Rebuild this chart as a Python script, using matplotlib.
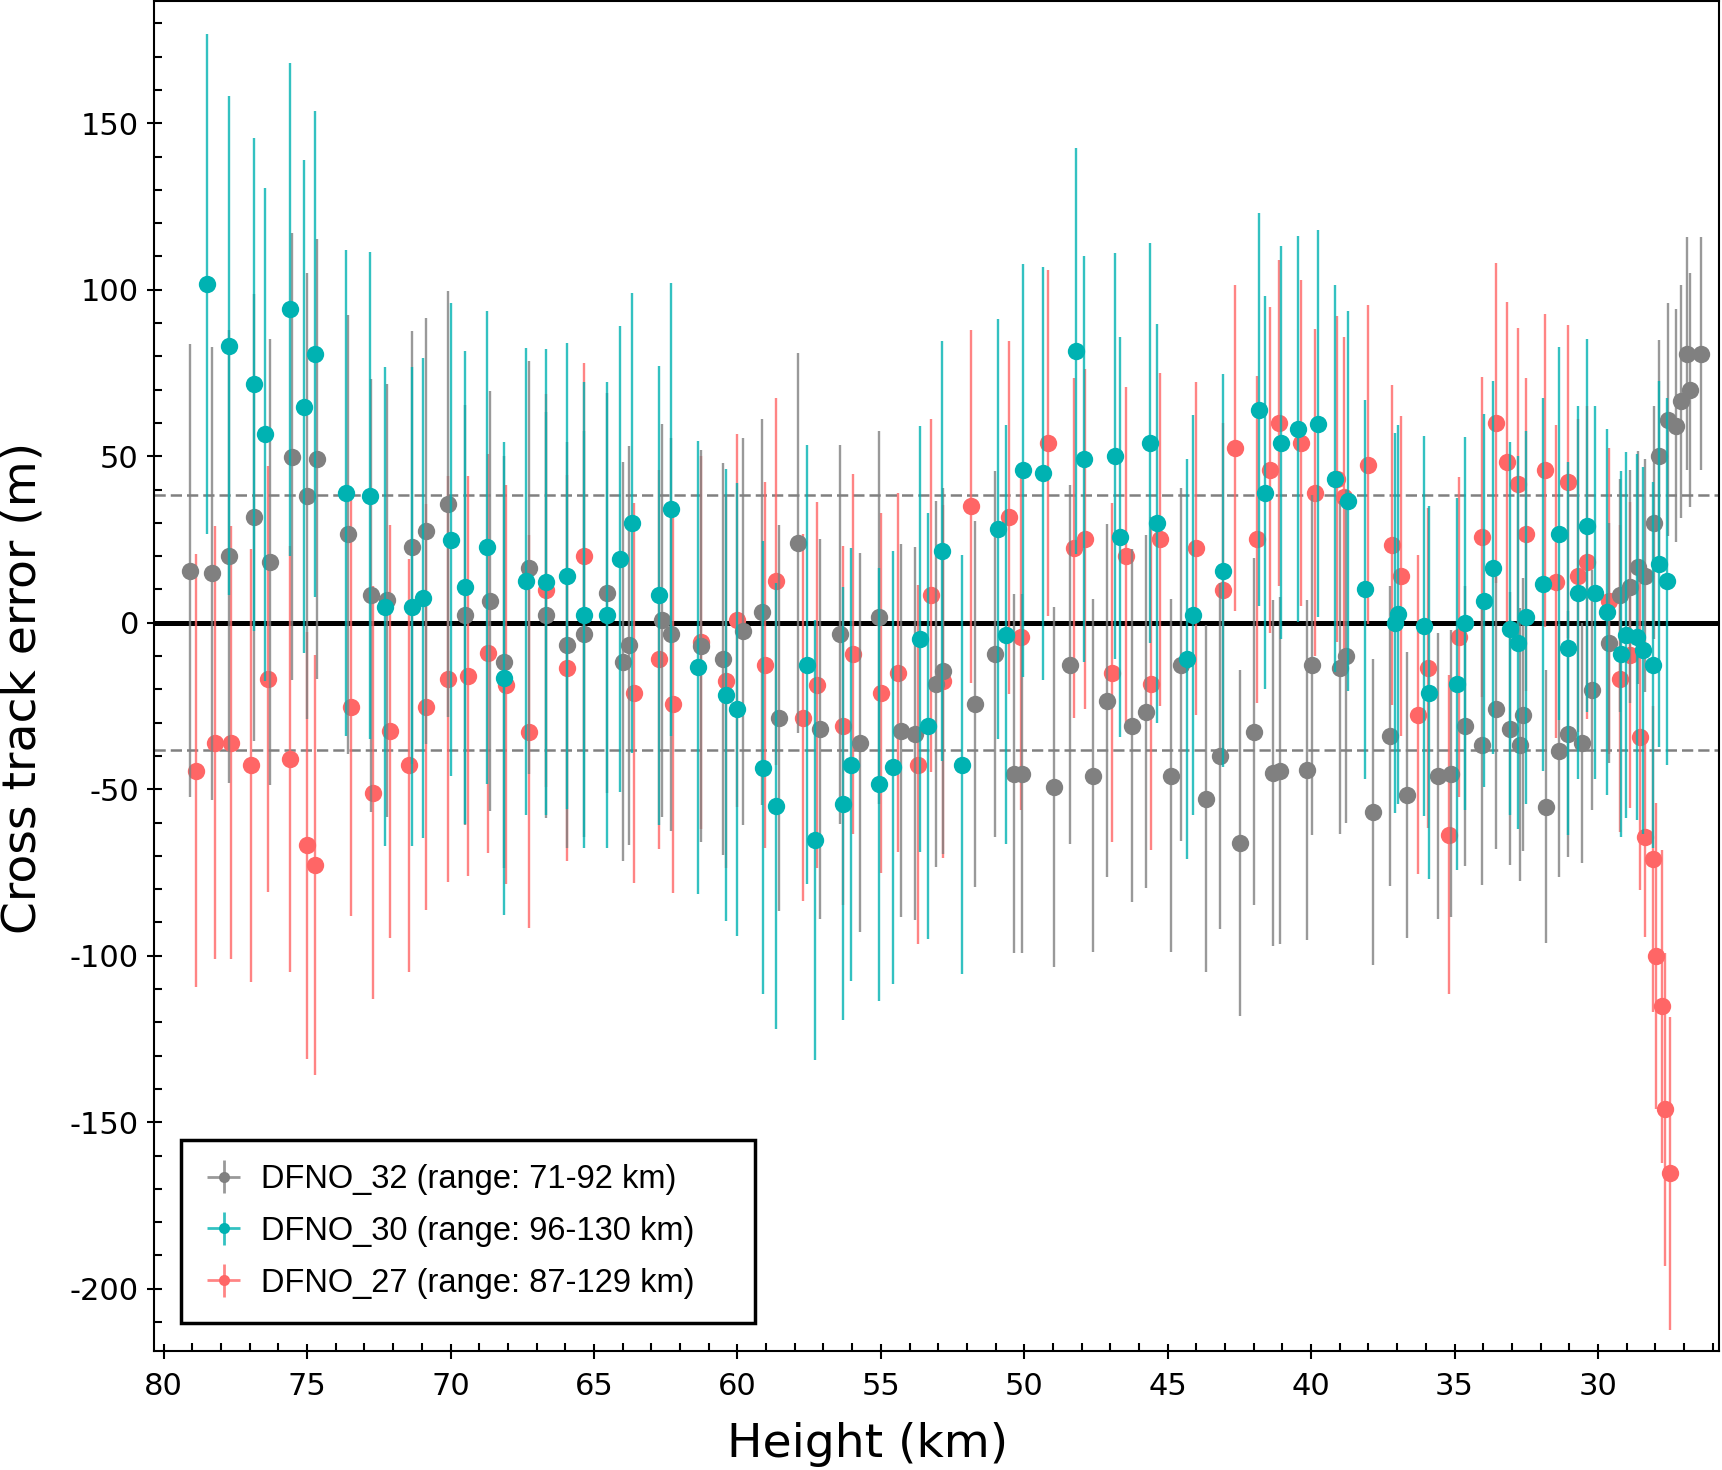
import numpy as np
import matplotlib.pyplot as plt
from matplotlib.colors import to_rgba
from matplotlib.ticker import MultipleLocator

# DFNO_32 (range: 71-92 km): height (km), cross track error (m), 1-sigma (m)
dfno32_h = [79.08, 78.31, 77.73, 76.86, 76.29, 75.51, 75.02, 74.64, 73.57, 72.77,
            72.20, 71.34, 70.85, 70.08, 69.50, 68.62, 68.15, 67.27, 66.68, 65.93,
            65.33, 64.56, 63.98, 63.78, 62.63, 62.33, 61.26, 60.50, 59.82, 59.13,
            58.55, 57.87, 57.11, 56.42, 55.74, 55.07, 54.28, 53.82, 53.07, 52.84,
            51.70, 51.01, 50.36, 50.09, 48.96, 48.39, 47.61, 47.12, 46.26, 45.75,
            44.90, 44.54, 43.65, 43.16, 42.48, 42.00, 41.34, 41.10, 40.16, 39.97,
            39.00, 38.78, 37.84, 37.26, 36.64, 35.58, 35.12, 34.63, 34.04, 33.56,
            33.08, 32.72, 32.60, 31.82, 31.35, 31.05, 30.54, 30.21, 29.60, 29.22,
            28.89, 28.60, 28.35, 28.06, 27.87, 27.56, 27.27, 27.09, 26.80, 26.91,
            26.40]
dfno32_err = [15.6, 14.8, 19.9, 31.6, 18.2, 49.9, 38.0, 49.1, 26.5, 8.3,
              6.7, 22.6, 27.5, 35.7, 2.3, 6.6, -11.8, 16.5, 2.3, -6.7,
              -3.5, 9.0, -11.7, -6.8, 0.7, -3.5, -7.0, -10.9, -2.6, 3.3,
              -28.6, 24.0, -31.9, -3.5, -36.0, 1.6, -32.5, -33.4, -18.4, -14.4,
              -24.4, -9.3, -45.3, -45.3, -49.3, -12.6, -45.9, -23.5, -31.0, -26.8,
              -46.0, -12.6, -52.8, -40.1, -66.1, -32.7, -45.1, -44.4, -44.3, -12.6,
              -13.5, -10.0, -56.9, -34.1, -51.8, -46.0, -45.3, -31.0, -36.7, -25.9,
              -31.8, -36.7, -27.6, -55.2, -38.4, -33.5, -36.1, -20.2, -6.0, 8.3,
              10.8, 16.6, 14.1, 30.0, 50.0, 61.0, 59.2, 66.5, 69.9, 80.8,
              80.8]
dfno32_sig = [68, 68, 68, 67, 67, 67, 67, 66, 66, 65,
              65, 65, 64, 64, 63, 63, 62, 62, 61, 61,
              61, 60, 60, 60, 59, 59, 59, 59, 58, 58,
              58, 57, 57, 57, 57, 56, 56, 56, 55, 55,
              55, 55, 54, 54, 54, 54, 53, 53, 53, 53,
              53, 53, 52, 52, 52, 52, 52, 52, 51, 51,
              50, 50, 46, 45, 43, 43, 43, 42, 42, 42,
              41, 41, 41, 41, 38, 37, 36, 36, 36, 35,
              35, 35, 35, 35, 35, 35, 35, 35, 35, 35,
              35]

# DFNO_30 (range: 96-130 km)
dfno30_h = [78.50, 77.73, 76.86, 76.47, 75.59, 75.11, 74.73, 73.66, 72.79, 72.30,
            71.34, 70.95, 69.99, 69.50, 68.72, 68.14, 67.37, 66.68, 65.93, 65.33,
            64.56, 64.09, 63.68, 62.72, 62.33, 61.36, 60.39, 60.01, 59.12, 58.65,
            57.59, 57.29, 56.33, 56.03, 55.07, 54.57, 53.62, 53.34, 52.85, 52.16,
            50.90, 50.62, 50.04, 49.36, 48.20, 47.91, 46.85, 46.66, 45.60, 45.38,
            44.34, 44.12, 43.07, 41.82, 41.62, 41.04, 40.46, 39.77, 39.15, 38.71,
            38.12, 37.06, 36.96, 36.08, 35.90, 34.93, 34.64, 33.97, 33.67, 33.08,
            32.79, 32.52, 31.93, 31.35, 31.06, 30.68, 30.38, 30.10, 29.70, 29.21,
            29.02, 28.64, 28.44, 28.07, 27.87, 27.60]
dfno30_err = [101.7, 83.2, 71.6, 56.6, 94.1, 64.9, 80.7, 39.0, 38.2, 4.8,
              4.8, 7.4, 24.9, 10.7, 22.6, -16.7, 12.4, 12.3, 14.1, 2.4,
              2.4, 19.2, 29.9, 8.2, 34.1, -13.4, -21.7, -26.0, -43.6, -55.1,
              -12.6, -65.2, -54.3, -42.6, -48.5, -43.4, -5.0, -31.0, 21.5, -42.6,
              28.2, -3.6, 45.8, 44.9, 81.6, 49.1, 50.0, 25.8, 53.9, 29.8,
              -10.9, 2.3, 15.6, 64.0, 39.1, 54.0, 58.2, 59.8, 43.3, 36.6,
              10.0, 0.0, 2.5, -0.9, -21.0, -18.4, -0.2, 6.6, 16.5, -1.8,
              -6.0, 1.6, 11.6, 26.7, -7.6, 9.0, 29.1, 9.0, 3.2, -9.3,
              -3.6, -4.2, -8.3, -12.6, 17.6, 12.4]
dfno30_sig = [75, 75, 74, 74, 74, 74, 73, 73, 73, 72,
              72, 72, 71, 71, 71, 71, 70, 70, 70, 70,
              70, 70, 69, 69, 68, 68, 68, 68, 68, 67,
              66, 66, 65, 65, 65, 65, 64, 64, 63, 63,
              63, 63, 62, 62, 61, 61, 61, 60, 60, 60,
              60, 60, 59, 59, 59, 59, 58, 58, 58, 57,
              57, 57, 57, 57, 56, 56, 56, 56, 56, 56,
              56, 56, 56, 56, 56, 56, 56, 56, 55, 55,
              55, 55, 55, 55, 55, 55]

# DFNO_27 (range: 87-129 km)
dfno27_h = [78.88, 78.21, 77.64, 76.95, 76.37, 75.59, 75.01, 74.73, 73.46, 72.69,
            72.11, 71.45, 70.85, 70.08, 69.40, 68.71, 68.05, 67.27, 66.68, 65.93,
            65.33, 63.59, 62.72, 62.25, 61.27, 60.39, 60.03, 59.03, 58.66, 57.70,
            57.21, 56.33, 55.96, 54.98, 54.40, 53.72, 53.25, 52.82, 51.86, 50.53,
            50.13, 49.17, 48.27, 47.89, 46.95, 46.46, 45.58, 45.27, 44.02, 43.06,
            42.66, 41.90, 41.42, 41.12, 40.36, 39.88, 39.10, 38.84, 38.03, 37.18,
            36.87, 36.29, 35.91, 35.21, 34.85, 34.05, 33.56, 33.18, 32.80, 32.50,
            31.84, 31.46, 31.05, 30.70, 30.38, 29.63, 29.24, 28.88, 28.54, 28.37,
            28.07, 27.96, 27.76, 27.67, 27.48]
dfno27_err = [-44.4, -36.1, -36.1, -42.8, -16.9, -41.0, -66.9, -72.7, -25.2, -51.0,
              -32.6, -42.8, -25.2, -16.8, -16.0, -9.2, -18.6, -32.7, 9.7, -13.5,
              19.9, -21.1, -11.0, -24.3, -5.8, -17.6, 0.7, -12.6, 12.4, -28.5,
              -18.6, -30.9, -9.3, -21.1, -15.0, -42.6, 8.2, -17.6, 35.0, 31.6,
              -4.2, 54.0, 22.4, 25.1, -15.0, 19.9, -18.4, 25.1, 22.4, 9.9,
              52.4, 25.0, 45.8, 59.9, 54.0, 39.1, 43.2, 37.9, 47.5, 23.4,
              14.1, -27.6, -13.5, -63.6, -4.3, 25.7, 59.9, 48.2, 41.6, 26.5,
              45.8, 12.3, 42.4, 14.1, 18.1, 6.6, -16.8, -9.7, -34.2, -64.4,
              -71.0, -100.0, -115.2, -146.1, -165.3]
dfno27_sig = [65, 65, 65, 65, 64, 64, 64, 63, 63, 62,
              62, 62, 61, 61, 60, 60, 60, 59, 59, 58,
              58, 57, 57, 57, 56, 56, 56, 55, 55, 55,
              55, 54, 54, 54, 54, 54, 53, 53, 53, 53,
              52, 52, 51, 51, 51, 51, 50, 50, 50, 50,
              49, 49, 49, 49, 49, 49, 49, 48, 48, 48,
              48, 48, 48, 48, 48, 48, 48, 48, 47, 47,
              47, 47, 47, 47, 47, 46, 46, 46, 46, 30,
              46, 46, 47, 47, 47]

labels = ['DFNO_32 (range: 71-92 km)', 'DFNO_30 (range: 96-130 km)', 'DFNO_27 (range: 87-129 km)']
colors = ['#808080', '#00b2b2', '#ff6666']
sigma_line = 38.3


def draw_series(ax, h, e, s, color, z):
    ax.errorbar(h, e, yerr=s, fmt='o', ms=12.5, mew=0, color=color,
                ecolor=to_rgba(color, 0.8), elinewidth=1.7, capsize=0, zorder=z)


plt.rcParams['font.family'] = 'DejaVu Sans'
plt.rcParams['axes.unicode_minus'] = False

fig = plt.figure(figsize=(17.22, 14.70), dpi=100)
ax = fig.add_axes([0.0893, 0.0812, 0.9088, 0.9181])

ax.axhline(0, color='black', lw=3.6, zorder=1.5)
for lvl in (sigma_line, -sigma_line):
    ax.axhline(lvl, color='#808080', lw=1.8, dashes=(4.5, 2.0), zorder=1.5)

# red at the bottom, teal on top as in the original
draw_series(ax, dfno27_h, dfno27_err, dfno27_sig, colors[2], 2)
draw_series(ax, dfno32_h, dfno32_err, dfno32_sig, colors[0], 3)
draw_series(ax, dfno30_h, dfno30_err, dfno30_sig, colors[1], 4)

# legend proxies with both x and y bars
handles = []
for c in colors:
    hnd = ax.errorbar([np.nan], [np.nan], xerr=[1], yerr=[1], fmt='o', ms=8, mew=0,
                      color=c, ecolor=to_rgba(c, 0.8), elinewidth=2, capsize=0)
    handles.append(hnd)

ax.set_xlim(80.345, 25.79)
ax.set_ylim(-218.6, 186.7)
ax.xaxis.set_major_locator(MultipleLocator(5))
ax.xaxis.set_minor_locator(MultipleLocator(1))
ax.yaxis.set_major_locator(MultipleLocator(50))
ax.yaxis.set_minor_locator(MultipleLocator(10))
ax.tick_params(which='major', direction='inout', length=10.8, width=1.5, labelsize=22)
ax.tick_params(which='minor', direction='in', length=5.5, width=1.5)
ax.tick_params(axis='x', which='major', pad=9.7)
ax.tick_params(axis='y', which='major', pad=5.3)
for sp in ax.spines.values():
    sp.set_linewidth(1.5)

fig.text(0.5038, 0.0088, 'Height (km)', ha='center', va='baseline', fontsize=34)
fig.text(0.0131, 0.532, 'Cross track error (m)', rotation=90, ha='center', va='center', fontsize=34)

leg = ax.legend(handles, labels, loc='lower left',
                bbox_to_anchor=(0.0176, 0.0203, 0.3663, 0.138), mode='expand',
                prop={'family': 'Liberation Sans', 'size': 23.5},
                frameon=True, fancybox=False, edgecolor='black', framealpha=1,
                borderpad=0.75, labelspacing=0.64, handlelength=1.1,
                handletextpad=0.6, borderaxespad=0)
leg.get_frame().set_linewidth(2.5)

fig.savefig('out.png', dpi=100)
